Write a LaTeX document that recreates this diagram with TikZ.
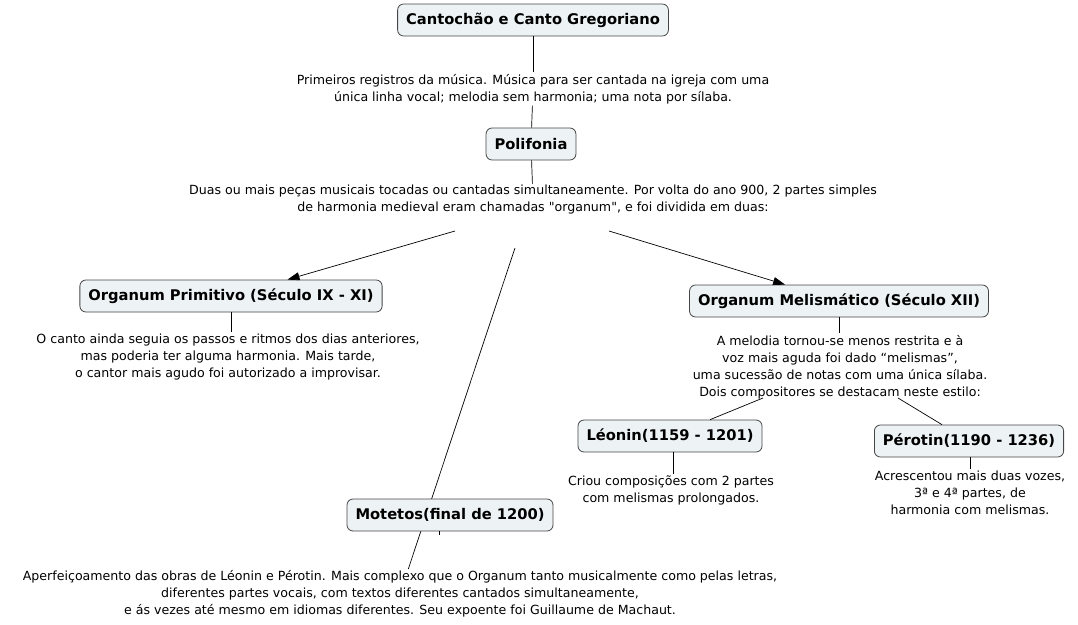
\documentclass[tikz,border=0pt]{standalone}
\usepackage{fontspec}
\setmainfont{DejaVu Sans}[Ligatures=TeXOff]
\usetikzlibrary{arrows.meta}
\definecolor{topicfill}{RGB}{237,243,245}
\definecolor{topicline}{RGB}{70,70,70}
\tikzset{
  topic/.style={draw=topicline, fill=topicfill, rounded corners=6pt, line width=0.8pt,
    font=\fontsize{14.7}{16}\selectfont\bfseries, minimum height=32pt, inner xsep=8.5pt},
  note/.style={align=center, font=\fontsize{12.6}{17}\selectfont, inner sep=1.5pt},
  link/.style={draw, line width=0.7pt},
  arrowlink/.style={link, -{Triangle[length=12pt,width=8pt]}}
}
\begin{document}
\begin{tikzpicture}[x=1pt,y=-1pt]
\useasboundingbox (0,0) rectangle (1078,624);
\node[topic] at (533,20) (canto) {Cantochão e Canto Gregoriano};
\node[note] at (533,89) (cantotext) {Primeiros registros da música. Música para ser cantada na igreja com uma\\única linha vocal; melodia sem harmonia; uma nota por sílaba.};
\node[topic] at (531,144) (polifonia) {Polifonia};
\node[note] at (533,200) (politext) {Duas ou mais peças musicais tocadas ou cantadas simultaneamente. Por volta do ano 900, 2 partes simples\\de harmonia medieval eram chamadas "organum", e foi dividida em duas:};
\coordinate (splitL) at (455,231);
\coordinate (splitR) at (609,231);
\coordinate (splitM) at (515,248);
\node[topic] at (231,296) (primitivo) {Organum Primitivo (Século IX - XI)};
\node[note] at (228,357) (primtext) {O canto ainda seguia os passos e ritmos dos dias anteriores,\\mas poderia ter alguma harmonia. Mais tarde,\\o cantor mais agudo foi autorizado a improvisar.};
\node[topic] at (839,301) (melisma) {Organum Melismático (Século XII)};
\node[note] at (840,367) (meltext) {A melodia tornou-se menos restrita e à\\voz mais aguda foi dado “melismas”,\\uma sucessão de notas com uma única sílaba.\\Dois compositores se destacam neste estilo:};
\coordinate (melL) at (763,398);
\coordinate (melR) at (898,398);
\node[topic] at (670,436) (leonin) {Léonin(1159 - 1201)};
\node[note] at (671,490) (leontext) {Criou composições com 2 partes\\com melismas prolongados.};
\node[topic] at (969,441) (perotin) {Pérotin(1190 - 1236)};
\node[note] at (970,493) (perotext) {Acrescentou mais duas vozes,\\3ª e 4ª partes, de\\harmonia com melismas.};
\node[note] at (400,594) (motetext) {Aperfeiçoamento das obras de Léonin e Pérotin. Mais complexo que o Organum tanto musicalmente como pelas letras,\\diferentes partes vocais, com textos diferentes cantados simultaneamente,\\e ás vezes até mesmo em idiomas diferentes. Seu expoente foi Guillaume de Machaut.};
% linha por baixo da caixa dos motetos
\draw[link] (splitM) -- (motetext);
\node[topic] at (450,515) (motetos) {Motetos(final de 1200)};
\draw[link] (canto) -- (cantotext);
\draw[link] (cantotext) -- (polifonia);
\draw[link] (polifonia) -- (politext);
\draw[arrowlink] (splitL) -- (primitivo);
\draw[arrowlink] (splitR) -- (melisma);
\draw[link] (primitivo.south) -- (primitivo.south |- primtext.north);
\draw[link] (melisma.south) -- (melisma.south |- meltext.north);
\draw[link] (melL) -- (leonin);
\draw[link] (melR) -- (perotin);
\draw[link] ([xshift=3pt]leonin.south) -- ([xshift=3pt]leonin.south |- leontext.north);
\draw[link] ([xshift=1pt]perotin.south) -- ([xshift=1pt]perotin.south |- perotext.north);
\draw[link] ([xshift=-11pt]motetos.south) -- ++(0,4);
\end{tikzpicture}
\end{document}
